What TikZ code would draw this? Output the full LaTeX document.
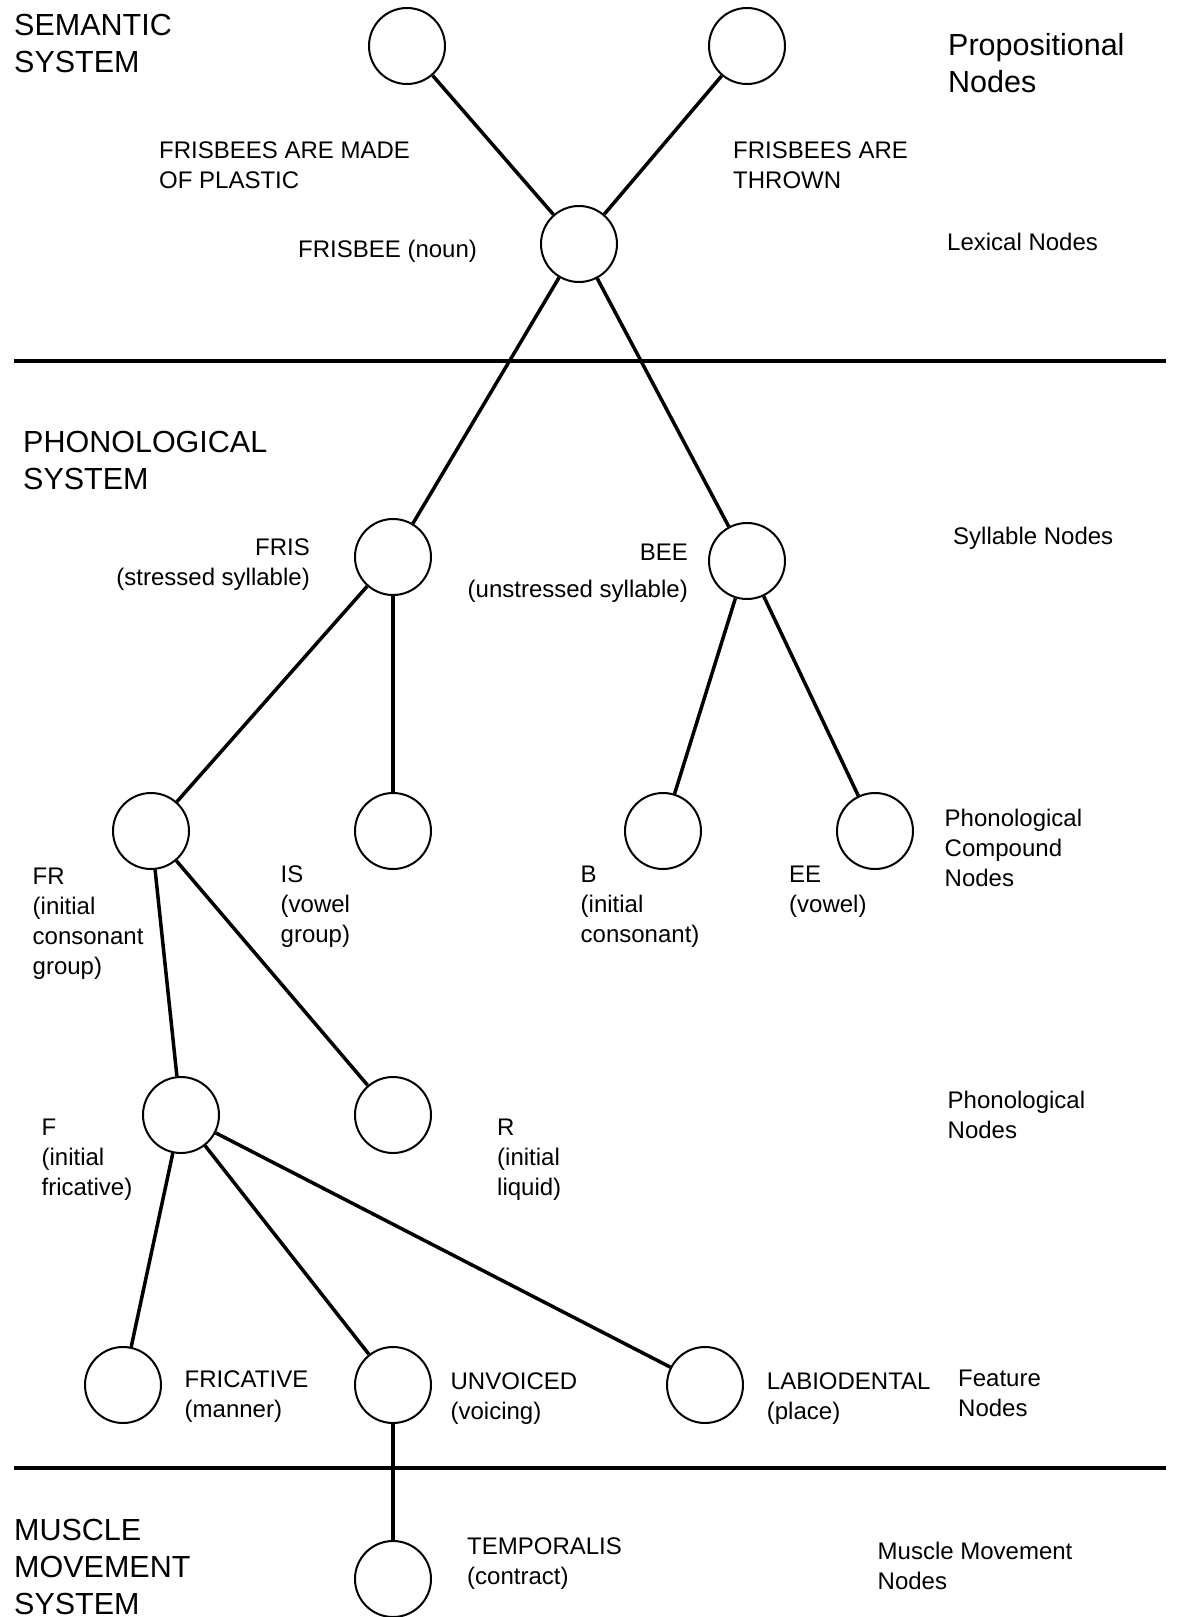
\documentclass[tikz,border=0pt]{standalone}
\usepackage{fontspec}
\setmainfont{Liberation Sans}
\begin{document}
\begin{tikzpicture}[x=1pt,y=-1pt,
  unit/.style={circle,draw,line width=2pt,minimum size=76pt,inner sep=0pt},
  link/.style={line width=3.5pt},
  rule/.style={line width=4pt},
  % text nodes are placed by the baseline of their last line
  lbl/.style={anchor=base west,align=left,inner sep=0pt,
    font=\fontsize{24}{30}\selectfont},
  lblr/.style={anchor=base east,align=right,inner sep=0pt,
    font=\fontsize{24}{30}\selectfont},
  sys/.style={anchor=base west,align=left,inner sep=0pt,
    font=\fontsize{30.5}{37}\selectfont}]
\useasboundingbox (0,0) rectangle (1181,1617);

% system dividers
\coordinate (r1a) at (14,361);   \coordinate (r1b) at (1166,361);
\coordinate (r2a) at (14,1468);  \coordinate (r2b) at (1166,1468);
\draw[rule] (r1a) -- (r1b);
\draw[rule] (r2a) -- (r2b);

% network nodes
\node[unit] (p1)   at (407,46)   {};
\node[unit] (p2)   at (747,46)   {};
\node[unit] (lex)  at (579,244)  {};
\node[unit] (fris) at (393,557)  {};
\node[unit] (bee)  at (747,561)  {};
\node[unit] (fr)   at (151,831)  {};
\node[unit] (is)   at (393,831)  {};
\node[unit] (b)    at (663,831)  {};
\node[unit] (ee)   at (875,831)  {};
\node[unit] (f)    at (181,1115) {};
\node[unit] (r)    at (393,1115) {};
\node[unit] (fric) at (123,1385) {};
\node[unit] (unv)  at (393,1385) {};
\node[unit] (lab)  at (705,1385) {};
\node[unit] (temp) at (393,1579) {};

% links
\draw[link] (p1) -- (lex);
\draw[link] (p2) -- (lex);
\draw[link] (lex) -- (fris);
\draw[link] (lex) -- (bee);
\draw[link] (fris) -- (fr);
\draw[link] (fris) -- (is);
\draw[link] (bee) -- (b);
\draw[link] (bee) -- (ee);
\draw[link] (fr) -- (f);
\draw[link] (fr) -- (r);
\draw[link] (f) -- (fric);
\draw[link] (f) -- (unv);
\draw[link] (f) -- (lab);
\draw[link] (unv) -- (temp);

% system names
\node[sys] (semsys) at (14,72)    {SEMANTIC\\SYSTEM};
\node[sys] (phosys) at (23,489.7) {PHONOLOGICAL\\SYSTEM};
\node[sys] (mussys) at (14,1614)  {MUSCLE\\MOVEMENT\\SYSTEM};

% level names
\node[sys] (lvprop) at (948,92)   {Propositional\\Nodes};
\node[lbl] (lvlex)  at (947,250.7) {Lexical Nodes};
\node[lbl] (lvsyl)  at (953,544.6) {Syllable Nodes};
\node[lbl] (lvcomp) at (944.5,886.6) {Phonological\\Compound\\Nodes};
\node[lbl] (lvphon) at (947.5,1138.2) {Phonological\\Nodes};
\node[lbl] (lvfeat) at (958,1416.7) {Feature\\Nodes};
\node[lbl] (lvmus)  at (877.5,1589) {Muscle Movement\\Nodes};

% unit labels
\node[lbl] (tp1)   at (159,188.8) {FRISBEES ARE MADE\\OF PLASTIC};
\node[lbl] (tp2)   at (733,188.8) {FRISBEES ARE\\THROWN};
\node[lbl] (tlex)  at (298,257.3) {FRISBEE (noun)};
\node[lblr] (tfris) at (310,585)  {FRIS\\(stressed syllable)};
\node[lblr] (tbee)  at (688,597.5) {BEE\\[7.5pt](unstressed syllable)};
\node[lbl] (tfr)   at (32.5,974.4) {FR\\(initial\\consonant\\group)};
\node[lbl] (tis)   at (280.5,942) {IS\\(vowel\\group)};
\node[lbl] (tb)    at (580.5,942) {B\\(initial\\consonant)};
\node[lbl] (tee)   at (789,912)   {EE\\(vowel)};
\node[lbl] (tf)    at (41.4,1195) {F\\(initial\\fricative)};
\node[lbl] (tr)    at (497,1195)  {R\\(initial\\liquid)};
\node[lbl] (tfric) at (184.5,1417.7) {FRICATIVE\\(manner)};
\node[lbl] (tunv)  at (450.4,1419.8) {UNVOICED\\(voicing)};
\node[lbl] (tlab)  at (766.7,1419.8) {LABIODENTAL\\(place)};
\node[lbl] (ttemp) at (467,1584.8) {TEMPORALIS\\(contract)};
\end{tikzpicture}
\end{document}
